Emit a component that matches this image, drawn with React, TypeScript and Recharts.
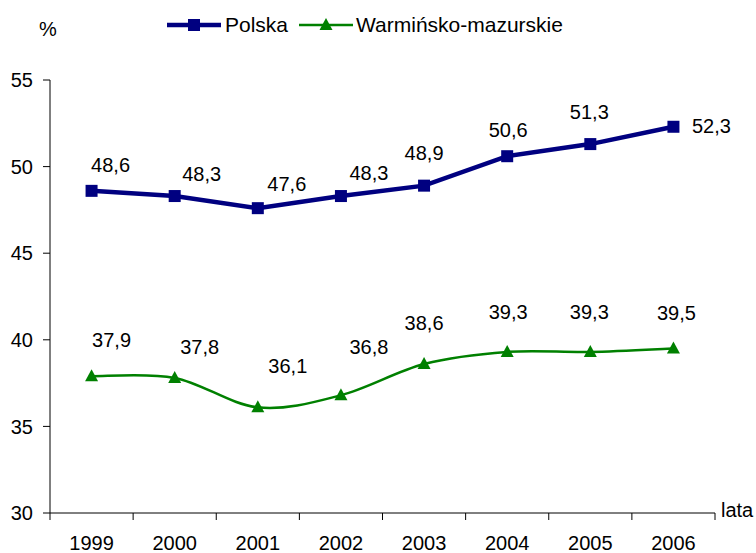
import React from 'react';
import { LineChart, Line, XAxis, YAxis, Legend } from 'recharts';

const years = ['1999', '2000', '2001', '2002', '2003', '2004', '2005', '2006'];
const polska = [48.6, 48.3, 47.6, 48.3, 48.9, 50.6, 51.3, 52.3];
const warminsko = [37.9, 37.8, 36.1, 36.8, 38.6, 39.3, 39.3, 39.5];
const yTicks = [30, 35, 40, 45, 50, 55];

// label placement offsets (styling only)
const polskaLabelOffsets: [number, number][] = [
  [19, -26], [27, -22], [29, -24], [28, -23], [0, -33], [1, -26], [-1, -32], [38, -1],
];
const warmLabelOffsets: [number, number][] = [
  [20, -36], [25, -31], [30, -41], [28, -48], [0, -41], [1, -40], [-1, -40], [3, -35],
];

const data = years.map((y, i) => ({ year: y, polska: polska[i], warm: warminsko[i] }));

const W = 756;
const H = 553;
const MARGIN = { top: 80, right: 41, bottom: 0, left: 0 };
const Y_W = 50;
const X_H = 40;
const PLOT_W = W - MARGIN.left - MARGIN.right - Y_W;
const HALF_BAND = PLOT_W / years.length / 2;
const FONT = '"Liberation Sans", Arial, sans-serif';
const FS = 20;
const NAVY = '#000080';
const GREEN = '#008000';

const excelSmooth = (context: any) => {
  let pts: [number, number][] = [];
  return {
    areaStart() {},
    areaEnd() {},
    lineStart() {
      pts = [];
    },
    point(x: number, y: number) {
      pts.push([+x, +y]);
    },
    lineEnd() {
      const n = pts.length;
      if (!n) return;
      context.moveTo(pts[0][0], pts[0][1]);
      for (let i = 0; i < n - 1; i++) {
        const p0 = pts[Math.max(i - 1, 0)];
        const p1 = pts[i];
        const p2 = pts[i + 1];
        const p3 = pts[Math.min(i + 2, n - 1)];
        context.bezierCurveTo(
          p1[0] + (p2[0] - p0[0]) / 6,
          p1[1] + (p2[1] - p0[1]) / 6,
          p2[0] - (p3[0] - p1[0]) / 6,
          p2[1] - (p3[1] - p1[1]) / 6,
          p2[0],
          p2[1]
        );
      }
    },
  };
};

const fmt = (v: number) => v.toFixed(1).replace('.', ',');

const SquareDot = (props: any) => {
  const { cx, cy } = props;
  if (cx == null || cy == null) return null;
  return <rect x={cx - 6} y={cy - 6} width={12} height={12} fill={NAVY} />;
};

const TriangleDot = (props: any) => {
  const { cx, cy } = props;
  if (cx == null || cy == null) return null;
  return <polygon points={`${cx},${cy - 7} ${cx + 6.5},${cy + 5} ${cx - 6.5},${cy + 5}`} fill={GREEN} />;
};

const makeLabel = (offsets: [number, number][]) => (props: any) => {
  const { x, y, value, index } = props;
  if (x == null || y == null) return null;
  const [dx, dy] = offsets[index] || [0, -25];
  return (
    <text
      x={x + dx}
      y={y + dy}
      dy="0.35em"
      textAnchor="middle"
      fontFamily={FONT}
      fontSize={FS}
      fill="#000"
    >
      {fmt(value)}
    </text>
  );
};

const XTick = (props: any) => {
  const { x, y, payload, index } = props;
  const last = index === years.length - 1;
  return (
    <g>
      <line x1={x - HALF_BAND} y1={y} x2={x - HALF_BAND} y2={y + 7} stroke="#000" />
      {last && <line x1={x + HALF_BAND} y1={y} x2={x + HALF_BAND} y2={y + 7} stroke="#000" />}
      <text x={x} y={y + 30} dy="0.35em" textAnchor="middle" fontFamily={FONT} fontSize={FS} fill="#000">
        {payload.value}
      </text>
    </g>
  );
};

const LegendContent = () => (
  <div
    style={{
      display: 'flex',
      alignItems: 'center',
      marginLeft: 167,
      fontFamily: FONT,
      fontSize: 21,
      color: '#000',
      lineHeight: '24px',
    }}
  >
    <svg width={54} height={16}>
      <line x1={0} y1={8} x2={54} y2={8} stroke={NAVY} strokeWidth={4.5} />
      <rect x={21} y={2} width={12} height={12} fill={NAVY} />
    </svg>
    <span style={{ marginLeft: 4 }}>Polska</span>
    <svg width={54} height={16} style={{ marginLeft: 11 }}>
      <line x1={0} y1={8} x2={54} y2={8} stroke={GREEN} strokeWidth={2.5} />
      <polygon points="27,1 33.5,13 20.5,13" fill={GREEN} />
    </svg>
    <span style={{ marginLeft: 3 }}>Warmińsko-mazurskie</span>
  </div>
);

export default function App() {
  return (
    <div style={{ position: 'absolute', left: 0, top: 0, width: W, height: H, background: '#fff' }}>
      <LineChart width={W} height={H} data={data} margin={MARGIN}>
        <XAxis
          dataKey="year"
          scale="band"
          height={X_H}
          tickLine={false}
          tickSize={0}
          tickMargin={0}
          axisLine={{ stroke: '#000' }}
          tick={<XTick />}
          interval={0}
        />
        <YAxis
          domain={[30, 55]}
          ticks={yTicks}
          width={Y_W}
          tickSize={7}
          tickMargin={10}
          axisLine={{ stroke: '#000' }}
          tickLine={{ stroke: '#000' }}
          tick={{ fill: '#000', fontSize: FS, fontFamily: FONT }}
          allowDataOverflow
        />
        <Legend
          layout="horizontal"
          verticalAlign="middle"
          align="center"
          wrapperStyle={{ top: 13, left: 0, width: W }}
          content={<LegendContent />}
        />
        <Line
          dataKey="polska"
          name="Polska"
          type="linear"
          stroke={NAVY}
          strokeWidth={4.5}
          dot={<SquareDot />}
          activeDot={false}
          label={makeLabel(polskaLabelOffsets)}
          isAnimationActive={false}
        />
        <Line
          dataKey="warm"
          name="Warmińsko-mazurskie"
          type={excelSmooth as any}
          stroke={GREEN}
          strokeWidth={2.5}
          dot={<TriangleDot />}
          activeDot={false}
          label={makeLabel(warmLabelOffsets)}
          isAnimationActive={false}
        />
      </LineChart>
      <div style={{ position: 'absolute', left: 39, top: 18, fontFamily: FONT, fontSize: FS, color: '#000' }}>%</div>
      <div style={{ position: 'absolute', left: 721, top: 499, fontFamily: FONT, fontSize: FS, color: '#000' }}>lata</div>
    </div>
  );
}
